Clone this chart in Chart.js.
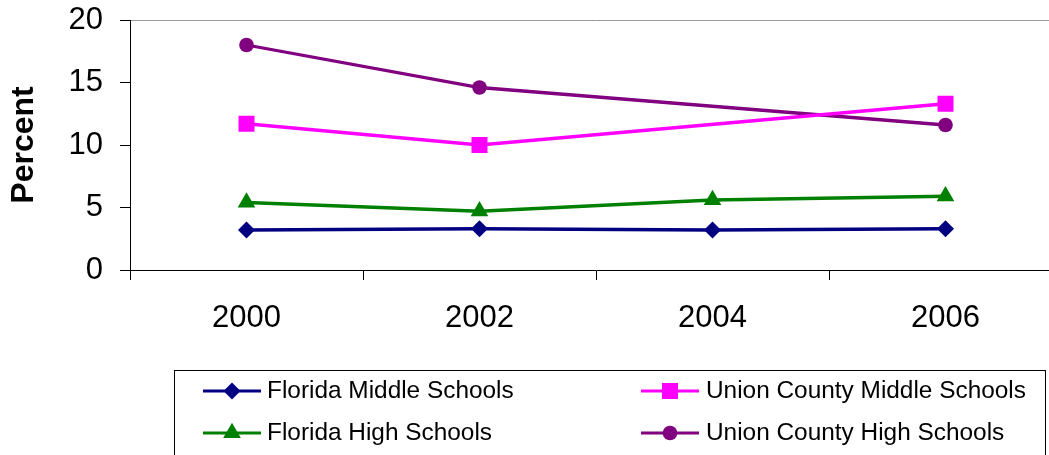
<!DOCTYPE html>
<html>
<head>
<meta charset="utf-8">
<script src="https://cdn.jsdelivr.net/npm/chart.js@4"></script>
<style>
  html, body { margin: 0; padding: 0; background: #fff; overflow: hidden; }
  #wrap { position: relative; width: 1075px; height: 455px; }
</style>
</head>
<body>
<div id="wrap"><canvas id="c"></canvas></div>
<script>
const years = ['2000', '2002', '2004', '2006'];
const floridaMiddle = [3.2, 3.3, 3.2, 3.3];
const unionMiddle = [11.7, 10.0, null, 13.3];
const floridaHigh = [5.4, 4.7, 5.6, 5.9];
const unionHigh = [18.0, 14.6, null, 11.6];
const yTicks = [0, 5, 10, 15, 20];
const yTitle = 'Percent';

const FONT = "'Liberation Sans', Arial, sans-serif";

const series = [
  { label: 'Florida Middle Schools', data: floridaMiddle, color: '#000080', pointStyle: 'rectRot', radius: 8.5 },
  { label: 'Union County Middle Schools', data: unionMiddle, color: '#FF00FF', pointStyle: 'rect', radius: 11.3 },
  { label: 'Florida High Schools', data: floridaHigh, color: '#008000', pointStyle: 'triangle', radius: 10.2 },
  { label: 'Union County High Schools', data: unionHigh, color: '#800080', pointStyle: 'circle', radius: 7.3 }
];

const legendPlugin = {
  id: 'boxLegend',
  afterDraw(chart) {
    const ctx = chart.ctx;
    ctx.save();
    ctx.strokeStyle = '#000';
    ctx.lineWidth = 1;
    ctx.strokeRect(174.5, 370.5, 871, 100);
    const slots = [
      { i: 0, x0: 203, x1: 261, tx: 267, y: 391 },
      { i: 1, x0: 641, x1: 699, tx: 706, y: 391 },
      { i: 2, x0: 203, x1: 261, tx: 267, y: 433 },
      { i: 3, x0: 641, x1: 699, tx: 706, y: 433 }
    ];
    slots.forEach(s => {
      const ds = series[s.i];
      ctx.strokeStyle = ds.color;
      ctx.lineWidth = 3;
      ctx.beginPath();
      ctx.moveTo(s.x0, s.y);
      ctx.lineTo(s.x1, s.y);
      ctx.stroke();
      ctx.fillStyle = ds.color;
      Chart.helpers.drawPoint(ctx, { pointStyle: ds.pointStyle, radius: ds.radius, borderWidth: 0 }, (s.x0 + s.x1) / 2, s.y);
      ctx.fillStyle = '#000';
      ctx.font = '24.4px ' + FONT;
      ctx.textAlign = 'left';
      ctx.textBaseline = 'middle';
      ctx.fillText(ds.label, s.tx, s.y);
    });
    ctx.restore();
  }
};

new Chart(document.getElementById('c'), {
  type: 'line',
  data: {
    labels: years,
    datasets: series.map(s => ({
      label: s.label,
      data: s.data,
      borderColor: s.color,
      backgroundColor: s.color,
      borderWidth: 3.3,
      pointStyle: s.pointStyle,
      pointRadius: s.radius,
      pointHoverRadius: s.radius,
      pointBorderWidth: 0,
      spanGaps: true,
      tension: 0
    }))
  },
  options: {
    responsive: true,
    maintainAspectRatio: false,
    animation: false,
    layout: { padding: { top: 20, right: 13, left: 0, bottom: 0 } },
    plugins: { legend: { display: false }, tooltip: { enabled: false } },
    scales: {
      x: {
        offset: true,
        grid: { offset: true, drawOnChartArea: false, color: '#000', tickLength: 10, lineWidth: 1 },
        border: { color: '#000', width: 1 },
        ticks: { color: '#000', font: { family: FONT, size: 31 }, padding: 20, maxRotation: 0 },
        afterFit(scale) { scale.height = 185; scale.paddingLeft = 0; scale.paddingRight = 0; }
      },
      y: {
        min: 0,
        max: 20,
        afterBuildTicks(scale) { scale.ticks = yTicks.map(v => ({ value: v })); },
        grid: {
          drawOnChartArea: true,
          color: c => (c.tick && c.tick.value === 20 ? '#999999' : 'rgba(0,0,0,0)'),
          tickColor: '#000',
          tickLength: 10,
          lineWidth: 1
        },
        border: { color: '#000', width: 1 },
        ticks: { color: '#000', font: { family: FONT, size: 31 }, padding: 17 },
        title: { display: true, text: yTitle, color: '#000', font: { family: FONT, size: 32, weight: 'bold' }, padding: { top: 5, bottom: 0 } },
        afterFit(scale) { scale.width = 130; scale.paddingTop = 0; scale.paddingBottom = 0; }
      }
    }
  },
  plugins: [legendPlugin]
});
</script>
</body>
</html>
